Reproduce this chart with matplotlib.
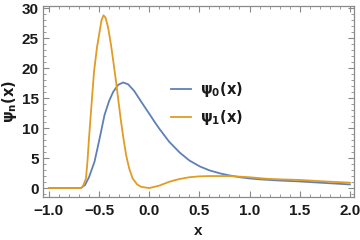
import matplotlib
matplotlib.use("Agg")
import matplotlib.pyplot as plt
from matplotlib.ticker import MultipleLocator

plt.rcParams['font.family'] = ['Liberation Sans', 'DejaVu Sans']
plt.rcParams['mathtext.fontset'] = 'custom'
plt.rcParams['mathtext.bf'] = 'DejaVu Sans:bold'
plt.rcParams['mathtext.rm'] = 'Liberation Sans'

# values
x0 = [-1.0, -0.68, -0.64, -0.60, -0.545, -0.50, -0.445, -0.40, -0.36, -0.31,
      -0.26, -0.21, -0.15, -0.08, 0.0, 0.055, 0.105, 0.2, 0.305, 0.4,
      0.505, 0.6, 0.705, 0.8, 0.905, 1.0, 1.105, 1.2, 1.3, 1.5, 1.75, 2.0]
psi0 = [0, 0, 0.5, 1.8, 4.4, 7.8, 12.2, 14.5, 16.0, 17.2,
        17.6, 17.3, 16.2, 14.4, 12.4, 11.0, 9.8, 7.7, 5.9, 4.6,
        3.6, 2.95, 2.45, 2.1, 1.8, 1.6, 1.45, 1.35, 1.25, 1.1, 0.85, 0.6]

x1 = [-1.0, -0.68, -0.66, -0.63, -0.615, -0.60, -0.55, -0.52, -0.495, -0.475,
      -0.455, -0.435, -0.41, -0.38, -0.355, -0.33, -0.305, -0.28, -0.255, -0.23,
      -0.2, -0.165, -0.12, -0.08, 0.0, 0.1, 0.2, 0.3, 0.4, 0.5,
      0.6, 0.7, 0.8, 0.9, 1.0, 1.17, 1.3, 1.5, 1.75, 2.0]
psi1 = [0, 0, 0.3, 1.6, 4.5, 8.3, 19.4, 23.5, 26.0, 28.0,
        28.8, 28.4, 26.8, 23.8, 20.8, 17.7, 14.3, 11.0, 8.1, 5.5,
        3.3, 1.6, 0.6, 0.2, 0.0, 0.4, 1.05, 1.5, 1.8, 1.95,
        2.0, 2.0, 2.0, 1.9, 1.8, 1.55, 1.45, 1.35, 1.1, 0.9]

labels = [r'$\mathbf{\psi_0(x)}$', r'$\mathbf{\psi_1(x)}$']
colors = ['#5E81B5', '#E19C24']

fig = plt.figure(figsize=(3.6, 2.4), dpi=100)
ax = fig.add_axes([0.119, 0.179, 0.864, 0.796])

ax.plot(x0, psi0, color=colors[0], lw=1.3, label=labels[0])
ax.plot(x1, psi1, color=colors[1], lw=1.3, label=labels[1])

ax.set_xlim(-1.06, 2.04)
ax.set_ylim(-1.5, 30.35)
ax.xaxis.set_major_locator(MultipleLocator(0.5))
ax.xaxis.set_minor_locator(MultipleLocator(0.1))
ax.yaxis.set_major_locator(MultipleLocator(5))
ax.yaxis.set_minor_locator(MultipleLocator(1))
ax.set_xticks([-1.0, -0.5, 0.0, 0.5, 1.0, 1.5, 2.0])
ax.set_xticklabels(['−1.0', '−0.5', '0.0', '0.5', '1.0', '1.5', '2.0'])

for s in ax.spines.values():
    s.set_color('#8a8a8a')
    s.set_linewidth(0.9)
ax.tick_params(which='both', direction='in', top=True, right=True,
               color='#8a8a8a', labelsize=11, labelcolor='#1a1a1a')
ax.tick_params(axis='x', pad=5)
ax.tick_params(axis='y', pad=3)
ax.tick_params(which='major', length=4, width=0.8)
ax.tick_params(which='minor', length=2, width=0.6)
for t in ax.get_xticklabels() + ax.get_yticklabels():
    t.set_fontweight('bold')

ax.set_xlabel('x', fontsize=11, fontweight='bold', color='#1a1a1a', labelpad=4)
ax.set_ylabel(r'$\mathbf{\psi_n(x)}$', fontsize=10.5, color='#1a1a1a', labelpad=2)

ax.legend(loc='upper left', bbox_to_anchor=(0.37, 0.68), frameon=False,
          handlelength=1.4, handletextpad=0.6, labelspacing=0.6, fontsize=10.5,
          labelcolor='#1a1a1a')

fig.savefig('out.png', dpi=100)
